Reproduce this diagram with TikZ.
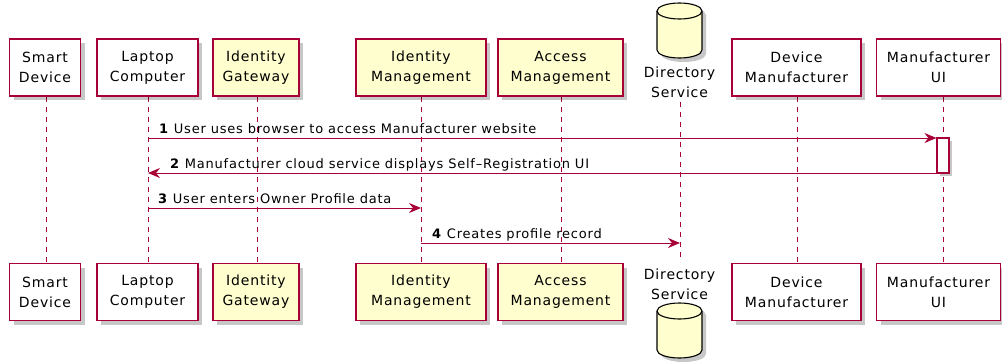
\documentclass[tikz,border=0pt]{standalone}
\usepackage{fontspec}
\setmainfont{DejaVu Sans}[LetterSpace=6]
\usetikzlibrary{arrows.meta,shadows}
\definecolor{pborder}{HTML}{A80036}
\definecolor{pfill}{HTML}{FEFECE}
\tikzset{
  part/.style={draw=pborder, line width=1.1pt, fill=white, align=center,
    font=\fontsize{14}{20}\selectfont, inner sep=0pt, minimum height=57pt,
    drop shadow={shadow xshift=4pt, shadow yshift=-4pt, opacity=0.22, fill=black}},
  ypart/.style={part, fill=pfill},
  dbtext/.style={align=center, font=\fontsize{14}{20}\selectfont, inner sep=0pt},
  life/.style={draw=pborder, line width=1pt, dash pattern=on 5pt off 5pt},
  msg/.style={draw=pborder, line width=1pt, -{Stealth[length=12pt,width=10pt,inset=4pt]}},
  mlabel/.style={font=\fontsize{13}{15}\selectfont, inner sep=0pt},
  act/.style={draw=pborder, line width=1.1pt, fill=white,
    drop shadow={shadow xshift=3pt, shadow yshift=-3pt, opacity=0.22, fill=black}},
  dbbody/.style={fill=pfill, draw=black, line width=1.1pt},
}
\newcommand{\dbcyl}[3]{%
  % #1 name, #2 center x, #3 top y
  \begin{scope}[shift={(#2,#3)}]
    \coordinate (#1) at (0,27.5);
    \fill[black, opacity=0.22] (-18.5,12) -- (-18.5,51)
      .. controls (-18.5,55.42) and (-8.43,59) .. (4,59)
      .. controls (16.43,59) and (26.5,55.42) .. (26.5,51)
      -- (26.5,12)
      .. controls (26.5,7.58) and (16.43,4) .. (4,4)
      .. controls (-8.43,4) and (-18.5,7.58) .. (-18.5,12) -- cycle;
    \path[dbbody] (-22.5,8) -- (-22.5,47)
      .. controls (-22.5,51.42) and (-12.43,55) .. (0,55)
      .. controls (12.43,55) and (22.5,51.42) .. (22.5,47)
      -- (22.5,8)
      .. controls (22.5,3.58) and (12.43,0) .. (0,0)
      .. controls (-12.43,0) and (-22.5,3.58) .. (-22.5,8) -- cycle;
    \draw[black, line width=1.1pt] (-22.5,8)
      .. controls (-22.5,12.42) and (-12.43,16) .. (0,16)
      .. controls (12.43,16) and (22.5,12.42) .. (22.5,8);
  \end{scope}}
\begin{document}
\begin{tikzpicture}[x=1pt,y=-1pt]
\useasboundingbox (0,0) rectangle (1002,362);
% lifelines
\coordinate (sdT) at (46,97);  \coordinate (sdB) at (46,264);
\coordinate (lcT) at (148,97); \coordinate (lcB) at (148,264);
\coordinate (igT) at (257,97); \coordinate (igB) at (257,264);
\coordinate (imT) at (421,97); \coordinate (imB) at (421,264);
\coordinate (amT) at (561,97); \coordinate (amB) at (561,264);
\coordinate (dsT) at (680,102); \coordinate (dsB) at (680,262);
\coordinate (dmT) at (797,97); \coordinate (dmB) at (797,264);
\coordinate (muT) at (943,97); \coordinate (muB) at (943,264);
\foreach \p in {sd,lc,ig,im,am,ds,dm,mu} { \draw[life] (\p T) -- (\p B); }

% top participants
\node[part, minimum width=71pt] (sd1) at (45,67.5) {Smart\\Device};
\node[part, minimum width=101pt] (lc1) at (147.5,67.5) {Laptop\\Computer};
\node[ypart, minimum width=86pt] (ig1) at (256,67.5) {Identity\\Gateway};
\node[ypart, minimum width=130pt] (im1) at (421,67.5) {Identity\\Management};
\node[ypart, minimum width=125pt] (am1) at (560.5,67.5) {Access\\Management};
\dbcyl{ds1cyl}{679.5}{3}
\node[dbtext] (ds1) at (679.5,82) {Directory\\Service};
\node[part, minimum width=129pt] (dm1) at (796.5,67.5) {Device\\Manufacturer};
\node[part, minimum width=124pt] (mu1) at (938.5,67.5) {Manufacturer\\UI};

% bottom participants
\node[part, minimum width=71pt] (sd2) at (45,292) {Smart\\Device};
\node[part, minimum width=101pt] (lc2) at (147.5,292) {Laptop\\Computer};
\node[ypart, minimum width=86pt] (ig2) at (256,292) {Identity\\Gateway};
\node[ypart, minimum width=130pt] (im2) at (421,292) {Identity\\Management};
\node[ypart, minimum width=125pt] (am2) at (560.5,292) {Access\\Management};
\node[dbtext] (ds2) at (679.5,284) {Directory\\Service};
\dbcyl{ds2cyl}{679.5}{303}
\node[part, minimum width=129pt] (dm2) at (796.5,292) {Device\\Manufacturer};
\node[part, minimum width=124pt] (mu2) at (938.5,292) {Manufacturer\\UI};

% activation
\node[act, minimum width=12pt, minimum height=35pt, inner sep=0pt] (muact) at (943,155.5) {};

% messages
\coordinate (m1s) at (148,138);
\coordinate (m2e) at (148,173);
\coordinate (m3s) at (148,208); \coordinate (m3e) at (421,208);
\coordinate (m4s) at (421,243); \coordinate (m4e) at (680,243);
\draw[msg] (m1s) -- (muact.north west |- m1s);
\node[mlabel, anchor=base west] (l1) at (159,133.5) {\textbf{1} User uses browser to access Manufacturer website};
\draw[msg] (muact.west |- m2e) -- (m2e);
\node[mlabel, anchor=base west] (l2) at (170,168.5) {\textbf{2} Manufacturer cloud service displays Self–Registration UI};
\draw[msg] (m3s) -- (m3e);
\node[mlabel, anchor=base west] (l3) at (158,203.5) {\textbf{3} User enters Owner Profile data};
\draw[msg] (m4s) -- (m4e);
\node[mlabel, anchor=base west] (l4) at (432,238.5) {\textbf{4} Creates profile record};
\end{tikzpicture}
\end{document}
